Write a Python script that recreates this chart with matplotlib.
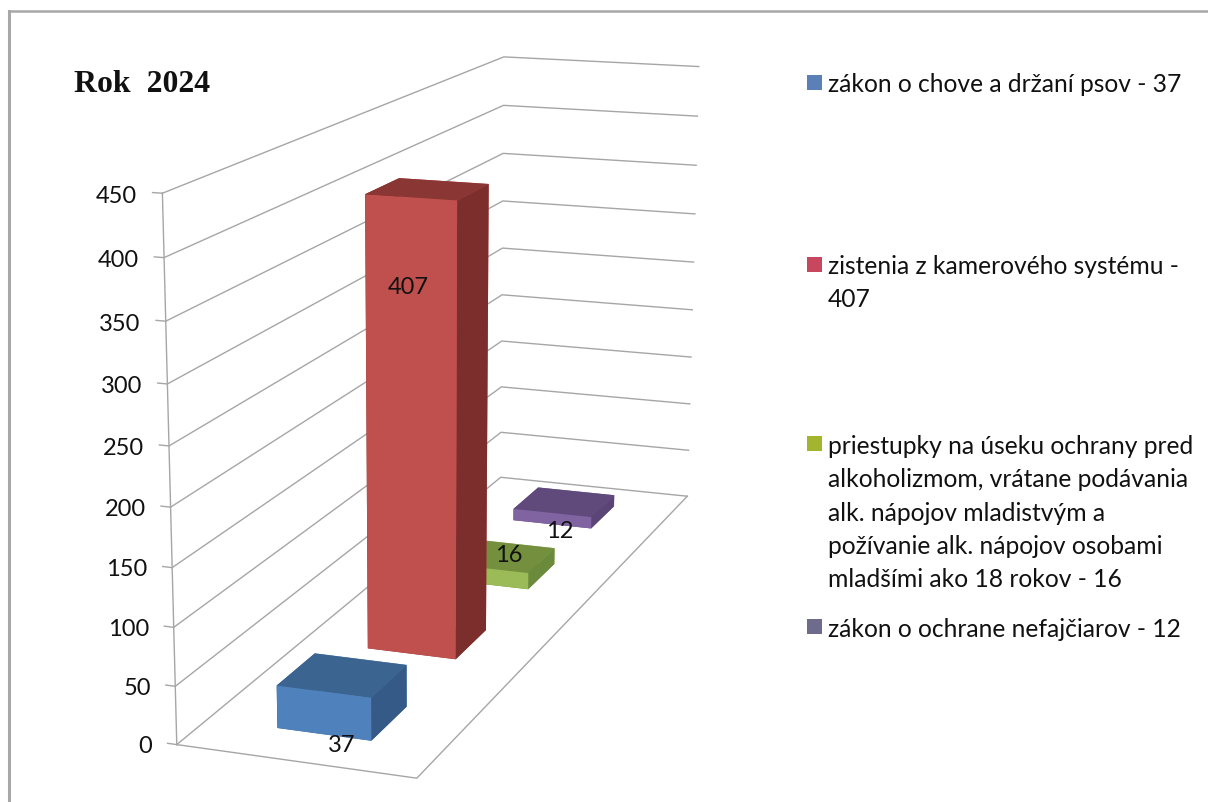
import numpy as np
import matplotlib
matplotlib.use("Agg")
import matplotlib.pyplot as plt
from matplotlib.lines import Line2D
from matplotlib.patches import Rectangle
from mpl_toolkits.mplot3d import Axes3D, proj3d

values = [37, 407, 16, 12]
series_labels = [
    "zákon o chove a držaní psov - 37",
    "zistenia z kamerového systému -\n407",
    "priestupky na úseku ochrany pred\nalkoholizmom, vrátane podávania\nalk. nápojov mladistvým a\npožívanie alk. nápojov osobami\nmladšími ako 18 rokov - 16",
    "zákon o ochrane nefajčiarov - 12",
]
z_ticks = [0, 50, 100, 150, 200, 250, 300, 350, 400, 450]
title = "Rok  2024"

W, H = 1208, 803
N = len(values)
Z_MAX = z_ticks[-1]

# camera calibration: chart box corners -> picture pixels
calib = [
    ((0, 0, 0), (176.7, 745.7)), ((1, 0, 0), (417, 779)),
    ((1, N, 0), (687, 498)), ((0, N, 0), (500, 478)),
    ((0, 0, 450), (162.3, 194.3)), ((0, N, 450), (504, 57.7)),
    ((1, N, 450), (699, 67.3)), ((0, N, 50), (501.7, 433.3)),
    ((1, N, 50), (689, 450.7)), ((0, N, 400), (503.5, 106.7)),
    ((1, N, 400), (697, 117.3)),
]
rows = []
for (x, y, z), (u, v) in calib:
    X = [x, y / N, z / Z_MAX, 1]
    u, v = u / 1000, v / 1000
    rows.append(X + [0, 0, 0, 0] + [-u * c for c in X])
    rows.append([0, 0, 0, 0] + X + [-v * c for c in X])
P = np.linalg.svd(np.array(rows))[2][-1].reshape(3, 4)
P = P @ np.diag([1, 1 / N, 1 / Z_MAX, 1])
P /= P[2, 3]
P[:2] *= 1000
M = np.vstack([P[0], P[1], [0, 0, 0, -1], P[2]])

fig = plt.figure(figsize=(W / 100, H / 100), dpi=100)
ax = fig.add_axes([0, 0, 1, 1], projection="3d")
ax.set_axis_off()
ax.set_proj_type("ortho")  # no clipping of lines to the unit cube
ax.get_proj = lambda: M
ax.apply_aspect = lambda position=None: None
ax.computed_zorder = False
ax.viewLim.intervalx = (0, W)
ax.viewLim.intervaly = (H, 0)

GRID = "#a6a6a6"
grid_kw = dict(color=GRID, lw=1.0, zorder=1)
for t in z_ticks:
    ax.plot([0, 0, 1], [0, N, N], [t, t, t], **grid_kw)
    ax.plot([-0.04, 0], [0, 0], [t, t], **grid_kw)
    tx, ty, _ = proj3d.proj_transform(-0.105, 0, t, M)
    ax.text2D(tx, ty + 2, str(t), transform=ax.transData, ha="right",
              va="center_baseline", fontsize=17, family="Lato", color="#111111", zorder=20)
ax.plot([0, 0], [0, 0], [0, Z_MAX], **grid_kw)
ax.plot([0, 1, 1], [0, 0, N], [0, 0, 0], **grid_kw)

face_colors = [
    ("#4f81bd", "#3b6491", "#355a88"),
    ("#c0504d", "#8a3634", "#7c2e2c"),
    ("#9bbb59", "#74903f", "#6b8a3c"),
    ("#8064a2", "#5f4a7b", "#5a4576"),
]
BAR_X0, BAR_DX = 0.30, 0.40
BAR_DY = 0.40
for i, (val, (front, top, side)) in enumerate(zip(values, face_colors)):
    ax.bar3d(BAR_X0, i + (1 - BAR_DY) / 2, 0, BAR_DX, BAR_DY, val,
             color=[top, top, front, front, side, side], shade=False,
             zorder=10 - i)

label_pos = [(342, 744), (408, 286), (509, 554), (560, 530)]
for val, (px, py) in zip(values, label_pos):
    ax.text2D(px, py, str(val), transform=ax.transData, ha="center",
              va="center_baseline", fontsize=17, family="Lato", color="#111111", zorder=20)

ax.text2D(74, 84, title, transform=ax.transData, ha="left", va="center",
          fontsize=22.9, family="Liberation Serif", weight="bold", color="#111111")

swatches = ["#5b80b8", "#c8465e", "#a3b52f", "#6f6b8c"]
leg_y = [73, 255, 435, 618]
sw_y = [75.5, 258, 437, 620]
for lab, col, ly, sy in zip(series_labels, swatches, leg_y, sw_y):
    ax.text2D(828, ly, lab, transform=ax.transData, ha="left", va="top", fontsize=17.7,
              family="Lato", color="#111111", linespacing=1.54)
    fig.add_artist(Rectangle((807 / W, 1 - (sy + 15) / H), 15 / W, 15 / H,
                             facecolor=col, edgecolor="none"))

fig.add_artist(Line2D([9 / W, 1], [1 - 11.5 / H] * 2, color="#a8a8a8", lw=1.8))
fig.add_artist(Line2D([9 / W, 9 / W], [0, 1 - 11.5 / H], color="#a8a8a8", lw=2.2))

fig.savefig("out.png", dpi=100, facecolor="white")
